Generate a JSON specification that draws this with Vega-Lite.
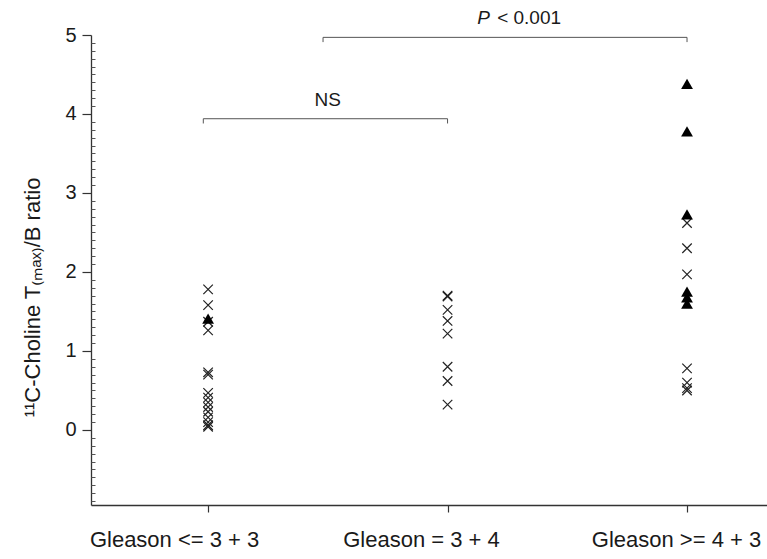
{
  "$schema": "https://vega.github.io/schema/vega-lite/v6.json",
  "autosize": "none",
  "width": 676,
  "height": 470,
  "padding": {"left": 91, "top": 35, "right": 0, "bottom": 54},
  "background": "white",
  "config": {"view": {"stroke": null}, "font": "Liberation Sans"},
  "datasets": {
    "points": [
      {"group": 1, "value": 1.78, "marker": "cross"},
      {"group": 1, "value": 1.58, "marker": "cross"},
      {"group": 1, "value": 1.37, "marker": "cross"},
      {"group": 1, "value": 1.26, "marker": "cross"},
      {"group": 1, "value": 0.73, "marker": "cross"},
      {"group": 1, "value": 0.70, "marker": "cross"},
      {"group": 1, "value": 0.47, "marker": "cross"},
      {"group": 1, "value": 0.41, "marker": "cross"},
      {"group": 1, "value": 0.35, "marker": "cross"},
      {"group": 1, "value": 0.29, "marker": "cross"},
      {"group": 1, "value": 0.23, "marker": "cross"},
      {"group": 1, "value": 0.16, "marker": "cross"},
      {"group": 1, "value": 0.10, "marker": "cross"},
      {"group": 1, "value": 0.06, "marker": "cross"},
      {"group": 1, "value": 0.04, "marker": "cross"},
      {"group": 1, "value": 1.41, "marker": "triangle"},
      {"group": 2, "value": 1.70, "marker": "cross"},
      {"group": 2, "value": 1.69, "marker": "cross"},
      {"group": 2, "value": 1.52, "marker": "cross"},
      {"group": 2, "value": 1.38, "marker": "cross"},
      {"group": 2, "value": 1.22, "marker": "cross"},
      {"group": 2, "value": 0.80, "marker": "cross"},
      {"group": 2, "value": 0.62, "marker": "cross"},
      {"group": 2, "value": 0.32, "marker": "cross"},
      {"group": 3, "value": 4.38, "marker": "triangle"},
      {"group": 3, "value": 3.78, "marker": "triangle"},
      {"group": 3, "value": 2.73, "marker": "triangle"},
      {"group": 3, "value": 1.75, "marker": "triangle"},
      {"group": 3, "value": 1.68, "marker": "triangle"},
      {"group": 3, "value": 1.60, "marker": "triangle"},
      {"group": 3, "value": 2.62, "marker": "cross"},
      {"group": 3, "value": 2.30, "marker": "cross"},
      {"group": 3, "value": 1.97, "marker": "cross"},
      {"group": 3, "value": 0.78, "marker": "cross"},
      {"group": 3, "value": 0.60, "marker": "cross"},
      {"group": 3, "value": 0.53, "marker": "cross"},
      {"group": 3, "value": 0.50, "marker": "cross"}
    ],
    "hbars": [
      {"x": 0.98, "x2": 2.0, "y": 3.94},
      {"x": 1.48, "x2": 3.0, "y": 4.97}
    ],
    "vbars": [
      {"x": 0.98, "y": 3.94, "y2": 3.88},
      {"x": 2.0, "y": 3.94, "y2": 3.88},
      {"x": 1.48, "y": 4.97, "y2": 4.91},
      {"x": 3.0, "y": 4.97, "y2": 4.91}
    ],
    "labels": [
      {"x": 1.5, "y": 4.18, "text": "NS"}
    ]
  },
  "resolve": {"axis": {"y": "independent", "x": "independent"}},
  "layer": [
    {
      "data": {"name": "points"},
      "transform": [{"filter": "datum.marker === 'cross'"}],
      "mark": {"type": "point", "shape": "M-1,-1L1,1M-1,1L1,-1", "filled": false, "stroke": "#222", "strokeWidth": 1.2, "size": 90, "opacity": 1},
      "encoding": {
        "x": {"field": "group", "type": "quantitative", "scale": {"domain": [0.511, 3.334], "nice": false, "zero": false},
          "axis": {"values": [1, 2, 3], "labels": false,
            "title": null, "grid": false, "domainColor": "#333", "domainWidth": 1.3, "tickColor": "#333", "tickWidth": 1.2, "tickSize": 7}},
        "y": {"field": "value", "type": "quantitative", "scale": {"domain": [-0.95, 5], "nice": false, "zero": false},
          "axis": {"values": [0, 1, 2, 3, 4, 5], "format": "d", "grid": false, "domainColor": "#333", "domainWidth": 1.3,
            "tickColor": "#333", "tickWidth": 1.2, "tickSize": 9, "labelFontSize": 20, "labelColor": "#1a1a1a", "labelPadding": 6,
            "labelFont": "Liberation Sans",
            "title": "¹¹C-Choline T₍ₘₐₓ₎/B ratio", "titleFontSize": 22, "titleFontWeight": "normal", "titleColor": "#1a1a1a",
            "titleFont": "Liberation Sans", "titlePadding": 20, "titleY": 262}}
      }
    },
    {
      "data": {"name": "points"},
      "transform": [{"filter": "datum.marker === 'triangle'"}],
      "mark": {"type": "point", "shape": "triangle-up", "filled": true, "color": "#000", "size": 140, "opacity": 1},
      "encoding": {
        "x": {"field": "group", "type": "quantitative",
          "axis": {"orient": "bottom", "values": [0.858, 1.889, 2.954], "labelExpr": "datum.value < 1.5 ? 'Gleason <= 3 + 3' : datum.value < 2.5 ? 'Gleason = 3 + 4' : 'Gleason >= 4 + 3'",
            "title": null, "grid": false, "domain": false, "ticks": false, "labelFontSize": 22, "labelColor": "#1a1a1a",
            "labelPadding": 24, "labelFont": "Liberation Sans", "labelOverlap": false, "labelBound": false, "labelFlush": false}},
        "y": {"field": "value", "type": "quantitative",
          "axis": {"orient": "right", "offset": -676, "values": [-0.9,-0.8,-0.7,-0.6,-0.5,-0.4,-0.3,-0.2,-0.1,0.1,0.2,0.3,0.4,0.5,0.6,0.7,0.8,0.9,1.1,1.2,1.3,1.4,1.5,1.6,1.7,1.8,1.9,2.1,2.2,2.3,2.4,2.5,2.6,2.7,2.8,2.9,3.1,3.2,3.3,3.4,3.5,3.6,3.7,3.8,3.9,4.1,4.2,4.3,4.4,4.5,4.6,4.7,4.8,4.9],
            "labels": false, "domain": false, "grid": false, "title": null, "ticks": true, "tickSize": 4, "tickColor": "#555", "tickWidth": 1}}
      }
    },
    {
      "data": {"name": "hbars"},
      "mark": {"type": "rule", "color": "#555", "strokeWidth": 1},
      "encoding": {
        "x": {"field": "x", "type": "quantitative", "axis": null},
        "x2": {"field": "x2"},
        "y": {"field": "y", "type": "quantitative", "axis": null}
      }
    },
    {
      "data": {"name": "vbars"},
      "mark": {"type": "rule", "color": "#555", "strokeWidth": 1},
      "encoding": {
        "x": {"field": "x", "type": "quantitative", "axis": null},
        "y": {"field": "y", "type": "quantitative", "axis": null},
        "y2": {"field": "y2"}
      }
    },
    {
      "data": {"name": "labels"},
      "mark": {"type": "text", "fontSize": 19, "color": "#1a1a1a", "font": "Liberation Sans", "align": "center", "baseline": "middle"},
      "encoding": {
        "x": {"field": "x", "type": "quantitative", "axis": null},
        "y": {"field": "y", "type": "quantitative", "axis": null},
        "text": {"field": "text"}
      }
    },
    {
      "data": {"values": [{"x": 2.177, "y": 5.21, "text": "P"}]},
      "mark": {"type": "text", "fontSize": 19, "fontStyle": "italic", "color": "#1a1a1a", "font": "Liberation Sans", "align": "right", "baseline": "middle"},
      "encoding": {
        "x": {"field": "x", "type": "quantitative", "axis": null},
        "y": {"field": "y", "type": "quantitative", "axis": null},
        "text": {"field": "text"}
      }
    },
    {
      "data": {"values": [{"x": 2.207, "y": 5.21, "text": "< 0.001"}]},
      "mark": {"type": "text", "fontSize": 19, "color": "#1a1a1a", "font": "Liberation Sans", "align": "left", "baseline": "middle"},
      "encoding": {
        "x": {"field": "x", "type": "quantitative", "axis": null},
        "y": {"field": "y", "type": "quantitative", "axis": null},
        "text": {"field": "text"}
      }
    }
  ]
}
